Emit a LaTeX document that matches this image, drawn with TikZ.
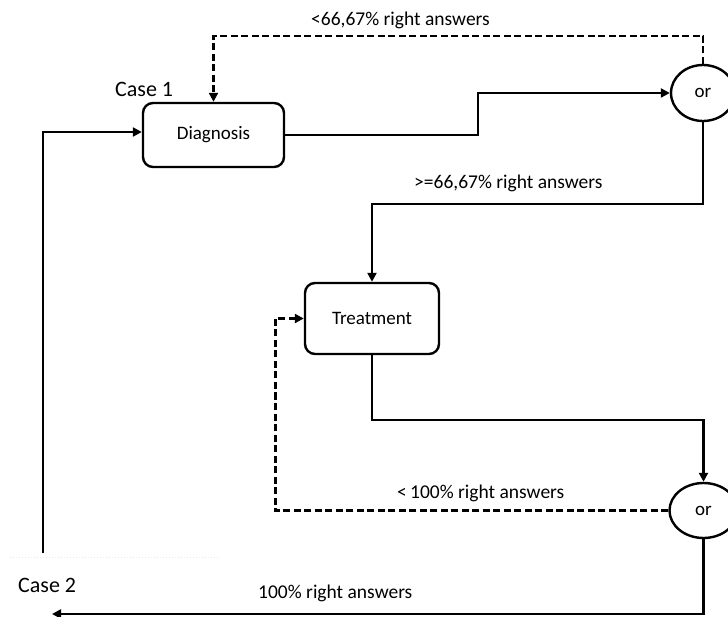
\documentclass[tikz,border=0pt]{standalone}
\usepackage{fontspec}
\setmainfont{Carlito}
\usetikzlibrary{arrows.meta,shapes.geometric}
\begin{document}
\begin{tikzpicture}[x=1pt,y=-1pt,
  line width=2.4pt,
  tip/.style={-{Triangle[length=9pt,width=9pt]}},
  dsh/.style={dash pattern=on 7pt off 3.5pt},
  box/.style={draw,rounded corners=10pt,inner sep=0pt,font=\fontsize{19}{22}\selectfont},
  orn/.style={draw,ellipse,inner sep=0pt,font=\fontsize{19}{22}\selectfont},
  lbl/.style={inner sep=0pt,font=\fontsize{19.5}{22}\selectfont},
  cse/.style={inner sep=0pt,font=\fontsize{22}{26}\selectfont}]
\useasboundingbox (0,0) rectangle (728,617);
\fill[white] (0,0) rectangle (728,617);

\node[box,minimum width=141pt,minimum height=64pt] (diag) at (213.5,135) {Diagnosis};
\node[box,minimum width=134pt,minimum height=71pt] (treat) at (372,318.5) {Treatment};
\node[orn,minimum width=64pt,minimum height=56pt] (or1) at (703,93) {or};
\node[orn,minimum width=68pt,minimum height=55pt] (or2) at (703.5,510.5) {or};

\node[cse,anchor=base west] (case1) at (114,97) {Case 1};
\node[cse,anchor=base west] (case2) at (17,592) {Case 2};

\node[lbl,anchor=base west] (l1) at (310,26) {<66,67\% right answers};
\node[lbl,anchor=base west] (l2) at (413,189) {>=66,67\% right answers};
\node[lbl,anchor=base west] (l3) at (396,498) {<\,100\% right answers};
\node[lbl,anchor=base west] (l4) at (257,598) {100\% right answers};

\coordinate (c2start) at (43,553);
\coordinate (c2end) at (52,614);

% faint separator
\draw[line width=1pt,dotted,color={rgb,255:red,238;green,233;blue,220}] (10,557) -- (220,557);

\draw[tip,dsh] (or1.north) -- ++(0,-28) -| (diag.north);
\draw[tip] (diag.east) -- ++(193,0) |- (or1.west);
\draw[tip] (or1.south) -- ++(0,82) -| (treat.north);
\draw[tip] (treat.south) -- ++(0,65) -| (or2.north);
\draw[tip,dsh] (or2.west) -- ++(-393,0) |- (treat.west);
\draw[tip] (or2.south) |- (c2end);
\draw[tip] (c2start) |- ([yshift=3pt]diag.west);
\end{tikzpicture}
\end{document}
